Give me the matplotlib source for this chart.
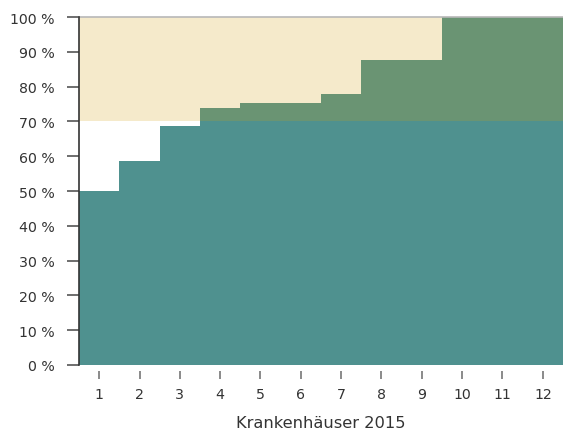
import numpy as np
import matplotlib
matplotlib.use("Agg")
import matplotlib.pyplot as plt

# Krankenhäuser 2015: Anteil je Haus (%), sortiert
hospitals = list(range(1, 13))
rates = [50.0, 58.5, 68.8, 73.9, 75.2, 75.3, 77.9, 87.7, 87.7, 100.0, 100.0, 100.0]
target = 70.0
ytick_vals = list(range(0, 101, 10))
ytick_labels = [f"{v} %" for v in ytick_vals]
xlabel = "Krankenhäuser 2015"

teal = "#4f918f"
green = "#6a9473"
sand = "#f5eacb"

fig = plt.figure(figsize=(5.63, 4.39), dpi=100)
ax = fig.add_axes([79 / 563, 73 / 439, 484 / 563, 348 / 439])

edges = np.arange(0.5, len(hospitals) + 1, 1.0)
vals = np.array(rates)

# target band 70-100 %
ax.axhspan(target, 100, color=sand, lw=0, zorder=1)
# part below target
ax.stairs(np.minimum(vals, target), edges, baseline=0, fill=True,
          color=teal, lw=0, zorder=2)
# part above target
ax.stairs(np.maximum(vals, target), edges, baseline=target, fill=True,
          color=green, lw=0, zorder=2)

ax.set_xlim(0.5, len(hospitals) + 0.5)
ax.set_ylim(0, 100)
ax.set_xticks(hospitals)
ax.set_yticks(ytick_vals)
ax.set_yticklabels(ytick_labels)

for side in ("right", "bottom"):
    ax.spines[side].set_visible(False)
ax.spines["bottom"].set_position(("outward", 4))
ax.spines["top"].set_color("#b8b8b8")
ax.spines["top"].set_linewidth(1.2)
ax.spines["left"].set_color("#333333")
ax.spines["left"].set_linewidth(1.2)
ax.spines["left"].set_zorder(5)

ax.tick_params(axis="y", length=8.6, width=1.2, color="#555555", pad=9,
               labelsize=10.2, labelcolor="#333333")
ax.tick_params(axis="x", length=5.8, width=1.2, color="#777777", pad=6,
               labelsize=10.2, labelcolor="#333333")
ax.set_xlabel(xlabel, fontsize=11.7, color="#333333", labelpad=10)

fig.savefig("out.png", dpi=100)
